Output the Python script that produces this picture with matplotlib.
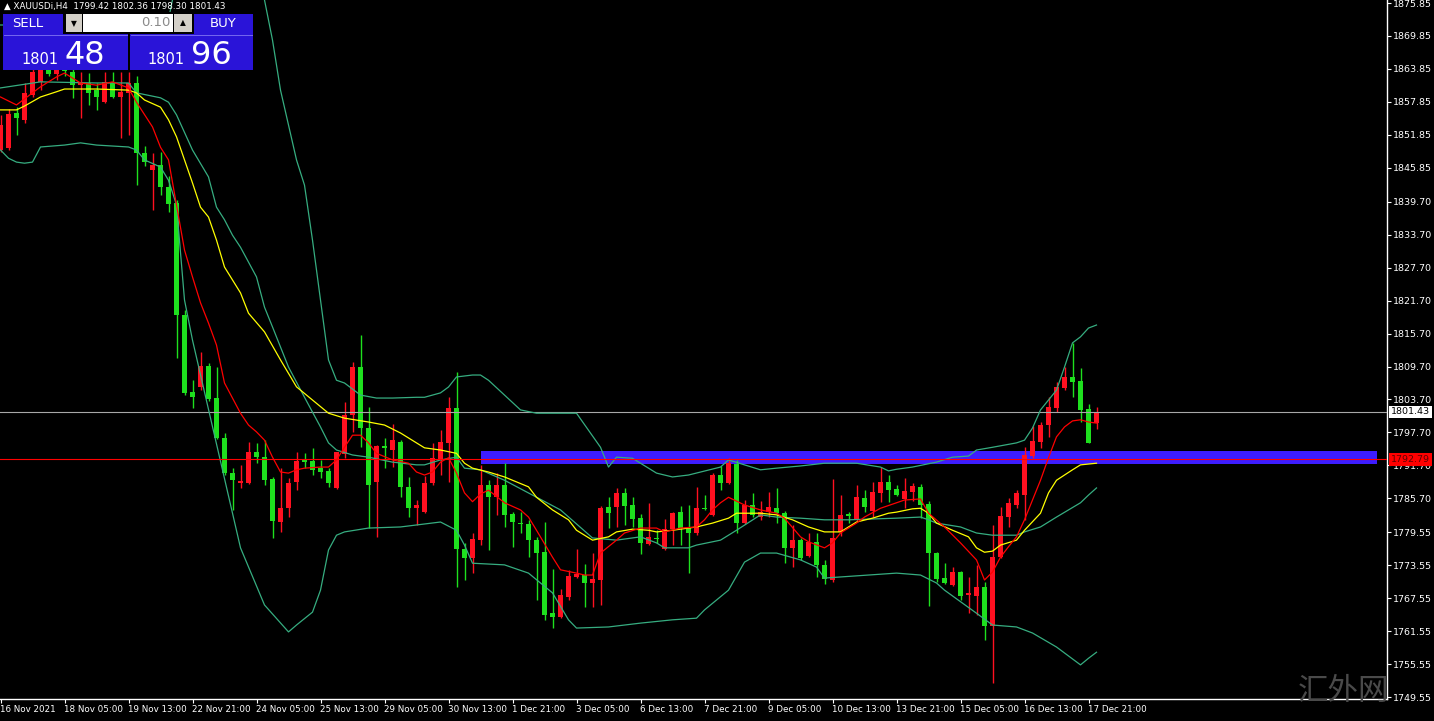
# xauusd_h4.py
# MT4 style H4 chart of XAUUSDi, 16 Nov - 17 Dec 2021, with MAs and Bollinger bands.

import matplotlib
matplotlib.use('Agg')
from matplotlib import pyplot as plt
from matplotlib.patches import Rectangle
from matplotlib.transforms import blended_transform_factory
import numpy as np

# Candles (one per H4 bar, left to right)
opens = [1849.1, 1849.5, 1855.8, 1854.6, 1859.1, 1861.5, 1864.2, 1863.0, 1865.5, 1863.3,
         1860.9, 1861.3, 1860.0, 1857.8, 1861.5, 1858.7, 1859.5, 1861.3, 1848.6, 1845.5,
         1846.4, 1842.4, 1839.5, 1819.1, 1805.1, 1806.0, 1809.8, 1804.0, 1796.7, 1790.3,
         1788.5, 1788.5, 1794.1, 1793.2, 1789.2, 1781.4, 1783.9, 1788.7, 1792.7, 1792.5,
         1791.2, 1790.7, 1787.6, 1793.8, 1800.9, 1809.6, 1798.5, 1788.7, 1795.2, 1794.5,
         1796.0, 1787.8, 1783.9, 1783.2, 1788.5, 1792.9, 1795.8, 1802.1, 1776.5, 1774.8,
         1778.1, 1788.1, 1785.9, 1788.1, 1782.9, 1781.2, 1781.0, 1778.1, 1775.9, 1764.8,
         1764.1, 1767.7, 1771.4, 1771.8, 1770.3, 1770.8, 1784.1, 1784.1, 1786.7, 1784.5,
         1782.1, 1777.4, 1778.5, 1776.5, 1780.1, 1783.2, 1780.5, 1779.4, 1783.9, 1782.7,
         1790.0, 1788.5, 1792.0, 1781.2, 1784.5, 1782.3, 1783.2, 1783.9, 1783.0, 1776.7,
         1778.1, 1775.2, 1777.8, 1773.6, 1770.9, 1779.6, 1782.9, 1781.8, 1785.8, 1783.4,
         1786.7, 1788.7, 1787.4, 1785.6, 1786.9, 1787.8, 1784.7, 1775.8, 1771.2, 1769.9,
         1772.3, 1768.1, 1767.9, 1769.6, 1762.5, 1775.0, 1782.3, 1784.5, 1786.3, 1793.4,
         1796.0, 1799.1, 1802.1, 1805.8, 1807.8, 1807.1, 1802.0, 1799.42]
highs = [1855.5, 1856.5, 1856.9, 1861.3, 1864.6, 1865.0, 1867.0, 1866.8, 1867.5, 1865.0,
         1863.3, 1863.1, 1861.3, 1863.3, 1863.3, 1863.3, 1863.3, 1862.6, 1849.8, 1848.6,
         1848.7, 1844.4, 1840.0, 1820.0, 1807.2, 1812.3, 1810.3, 1809.6, 1797.6, 1791.2,
         1791.8, 1796.0, 1795.8, 1796.3, 1789.6, 1791.2, 1789.4, 1794.1, 1793.9, 1794.9,
         1792.7, 1791.2, 1794.1, 1803.2, 1810.5, 1815.4, 1802.3, 1795.4, 1796.7, 1799.2,
         1796.3, 1789.6, 1785.4, 1789.8, 1795.8, 1798.1, 1804.1, 1808.7, 1777.6, 1779.4,
         1791.8, 1789.0, 1790.3, 1792.1, 1783.2, 1783.2, 1781.8, 1778.7, 1781.4, 1772.8,
         1769.2, 1772.7, 1776.5, 1773.8, 1775.8, 1784.3, 1785.9, 1787.6, 1787.6, 1785.9,
         1782.9, 1784.9, 1779.9, 1781.9, 1783.2, 1784.3, 1784.5, 1787.8, 1786.3, 1790.3,
         1791.6, 1793.0, 1792.7, 1785.4, 1786.7, 1785.2, 1786.9, 1787.6, 1783.4, 1780.9,
         1778.5, 1779.4, 1779.4, 1774.5, 1789.2, 1786.3, 1783.2, 1788.1, 1787.2, 1788.7,
         1791.4, 1790.0, 1788.1, 1789.4, 1788.5, 1788.3, 1785.2, 1775.9, 1773.9, 1773.2,
         1772.5, 1771.4, 1773.6, 1770.5, 1780.9, 1784.1, 1785.8, 1787.2, 1795.0, 1798.9,
         1799.6, 1804.1, 1806.9, 1809.6, 1814.0, 1809.4, 1802.9, 1802.36]
lows = [1848.7, 1849.1, 1851.8, 1854.0, 1858.7, 1860.0, 1862.5, 1861.8, 1862.6, 1858.6,
        1854.9, 1857.3, 1856.4, 1857.7, 1858.6, 1851.3, 1851.8, 1842.7, 1846.2, 1838.2,
        1840.9, 1837.8, 1811.2, 1804.5, 1802.1, 1805.4, 1803.4, 1796.5, 1790.0, 1783.6,
        1787.6, 1788.3, 1792.1, 1788.1, 1778.5, 1779.6, 1782.3, 1787.2, 1791.2, 1790.0,
        1789.4, 1787.8, 1787.4, 1793.0, 1797.8, 1795.0, 1780.3, 1778.7, 1791.2, 1791.4,
        1785.9, 1782.3, 1780.9, 1783.0, 1788.1, 1790.0, 1788.7, 1769.6, 1770.8, 1772.1,
        1777.2, 1776.3, 1782.7, 1780.5, 1776.8, 1779.4, 1775.0, 1767.2, 1763.6, 1762.1,
        1763.9, 1767.2, 1771.2, 1765.9, 1765.9, 1766.3, 1780.3, 1780.5, 1780.9, 1780.5,
        1775.6, 1777.2, 1777.6, 1776.3, 1777.2, 1777.2, 1772.1, 1779.0, 1783.6, 1782.5,
        1787.2, 1788.3, 1779.4, 1781.0, 1782.3, 1781.8, 1782.3, 1781.2, 1773.9, 1773.2,
        1774.5, 1775.0, 1771.4, 1770.1, 1770.5, 1778.8, 1781.2, 1781.6, 1783.2, 1782.3,
        1785.0, 1785.0, 1786.1, 1783.9, 1785.2, 1782.1, 1766.1, 1770.5, 1770.1, 1769.7,
        1767.2, 1764.8, 1764.5, 1759.9, 1752.1, 1774.8, 1780.5, 1783.9, 1781.8, 1793.0,
        1794.9, 1796.9, 1801.4, 1805.4, 1804.1, 1799.6, 1795.8, 1798.30]
closes = [1853.7, 1855.7, 1854.9, 1859.5, 1863.3, 1864.2, 1863.0, 1865.5, 1863.5, 1860.9,
          1861.5, 1859.5, 1858.7, 1861.5, 1858.7, 1859.7, 1861.3, 1848.6, 1846.9, 1846.4,
          1842.4, 1839.3, 1819.1, 1804.9, 1804.1, 1809.8, 1803.8, 1796.7, 1790.3, 1789.0,
          1788.9, 1794.1, 1793.2, 1789.0, 1781.6, 1783.9, 1788.5, 1792.5, 1792.3, 1790.9,
          1790.5, 1788.5, 1794.1, 1800.9, 1809.6, 1798.5, 1788.1, 1795.2, 1794.9, 1796.3,
          1787.8, 1783.9, 1784.5, 1788.5, 1793.0, 1796.0, 1802.1, 1776.5, 1774.8, 1778.3,
          1788.1, 1785.9, 1788.1, 1782.7, 1781.4, 1781.0, 1778.1, 1775.8, 1764.5, 1764.1,
          1768.1, 1771.6, 1771.9, 1770.3, 1771.0, 1783.9, 1783.0, 1786.7, 1784.3, 1781.9,
          1777.6, 1778.7, 1778.3, 1780.1, 1783.0, 1780.3, 1779.4, 1783.9, 1783.8, 1790.0,
          1788.5, 1792.1, 1781.2, 1784.5, 1782.7, 1783.2, 1784.1, 1783.0, 1776.7, 1778.1,
          1774.8, 1777.8, 1773.6, 1771.0, 1778.5, 1782.7, 1782.5, 1785.9, 1784.1, 1786.9,
          1788.7, 1787.2, 1786.3, 1787.0, 1787.9, 1784.5, 1775.8, 1771.0, 1770.3, 1772.3,
          1767.9, 1768.5, 1769.6, 1762.5, 1775.0, 1782.5, 1784.9, 1786.7, 1793.6, 1796.1,
          1799.1, 1802.3, 1806.0, 1807.8, 1806.9, 1801.8, 1795.8, 1801.43]

# Fast MA (red), read at these bars
fast_bars = [0, 2, 5, 7, 8, 10, 12, 14, 16, 17, 19, 20, 21, 22, 23, 24, 25, 26, 27, 28,
             29, 30, 31, 32, 33, 34, 35, 36, 37, 38, 40, 41, 42, 43, 44, 45, 46, 47, 49, 51,
             52, 53, 54, 55, 56, 57, 58, 59, 60, 61, 63, 65, 66, 67, 69, 70, 72, 73, 74, 75,
             77, 78, 80, 82, 83, 85, 87, 88, 89, 90, 91, 93, 95, 97, 98, 100, 101, 103, 104, 105,
             107, 108, 110, 112, 113, 115, 116, 118, 120, 122, 123, 124, 125, 126, 127, 128, 130, 131, 132, 133,
             134, 135, 136, 137]
fast_ma = [1858.75, 1857.3, 1860.6, 1862.4, 1863.1, 1861.3, 1860.9, 1861.5, 1860.4, 1857.8,
           1853.3, 1849.6, 1847.3, 1839.1, 1830.9, 1826.0, 1821.3, 1817.6, 1813.6, 1806.7,
           1803.95, 1801.2, 1799.05, 1797.8, 1796.3, 1793.2, 1790.5, 1790.3, 1790.9, 1791.2,
           1791.4, 1791.4, 1792.7, 1795.0, 1797.2, 1797.2, 1795.8, 1793.9, 1792.7, 1792.1,
           1790.5, 1789.95, 1790.5, 1792.3, 1793.1, 1790.3, 1786.7, 1785.1, 1786.5, 1787.2,
           1784.9, 1783.6, 1782.3, 1779.9, 1775.0, 1772.7, 1772.1, 1771.75, 1771.75, 1775.75,
           1778.1, 1779.4, 1780.3, 1780.3, 1779.6, 1780.3, 1780.5, 1781.8, 1783.6, 1784.9,
           1785.9, 1784.5, 1783.6, 1783.0, 1782.1, 1778.7, 1777.8, 1776.7, 1777.6, 1779.4,
           1781.2, 1782.3, 1783.9, 1784.9, 1785.4, 1785.6, 1783.0, 1780.5, 1777.6, 1774.5,
           1770.85, 1772.3, 1775.0, 1776.9, 1778.7, 1781.8, 1789.0, 1793.1, 1796.9, 1798.7,
           1799.8, 1800.0, 1799.6, 1799.4]

# Slow MA (yellow)
slow_bars = [0, 2, 3, 5, 7, 8, 12, 16, 17, 18, 20, 21, 22, 23, 24, 25, 26, 27, 28, 30,
             31, 33, 35, 37, 39, 41, 43, 46, 48, 50, 52, 53, 55, 57, 58, 59, 61, 63, 66, 67,
             69, 71, 72, 74, 76, 77, 79, 81, 82, 84, 86, 87, 89, 91, 92, 95, 97, 99, 101, 103,
             105, 106, 107, 109, 111, 112, 114, 115, 116, 117, 119, 121, 122, 123, 124, 125, 127, 128, 130, 131,
             132, 134, 135, 137]
slow_ma = [1856.4, 1856.4, 1857.1, 1858.75, 1859.7, 1860.2, 1860.2, 1860.0, 1859.5, 1858.2,
           1856.9, 1854.6, 1851.5, 1847.3, 1843.1, 1838.7, 1836.9, 1832.7, 1827.8, 1823.1,
           1819.4, 1816.0, 1810.9, 1806.0, 1803.6, 1801.2, 1800.3, 1799.6, 1799.05, 1797.6,
           1795.8, 1794.9, 1794.5, 1793.9, 1792.1, 1791.2, 1790.5, 1789.6, 1787.8, 1785.9,
           1783.6, 1781.8, 1779.9, 1778.1, 1778.7, 1779.6, 1780.1, 1779.9, 1779.6, 1779.9,
           1780.3, 1780.5, 1781.2, 1782.1, 1783.0, 1783.0, 1782.7, 1781.8, 1780.5, 1779.6,
           1779.6, 1780.5, 1781.4, 1782.1, 1783.0, 1783.2, 1783.8, 1783.9, 1783.0, 1781.2,
           1779.9, 1778.7, 1776.7, 1775.9, 1776.1, 1777.2, 1778.1, 1779.9, 1783.0, 1786.7,
           1789.0, 1790.9, 1791.8, 1792.1]

# Bollinger bands (green): middle, upper, lower
bb_mid_bars = [0, 5, 12, 16, 17, 20, 21, 22, 24, 26, 27, 28, 29, 30, 32, 33, 34, 36, 38, 40,
               41, 42, 44, 46, 49, 52, 53, 55, 57, 58, 60, 63, 70, 74, 77, 80, 82, 83, 86, 87,
               90, 92, 95, 97, 100, 103, 106, 109, 112, 115, 116, 117, 120, 122, 124, 127, 128, 130, 132, 135,
               136, 137]
bb_mid = [1860.4, 1861.5, 1861.3, 1861.3, 1859.5, 1858.6, 1857.8, 1855.5, 1849.1, 1844.2,
          1838.7, 1836.4, 1833.6, 1831.4, 1826.0, 1820.5, 1816.9, 1809.6, 1804.1, 1798.7,
          1795.8, 1794.5, 1793.6, 1793.2, 1792.3, 1791.8, 1791.8, 1792.7, 1793.2, 1791.2,
          1790.9, 1789.0, 1783.6, 1778.5, 1778.1, 1778.7, 1777.6, 1776.7, 1776.7, 1777.2,
          1778.1, 1779.9, 1782.7, 1782.3, 1782.1, 1781.8, 1781.8, 1781.95, 1782.1, 1782.3,
          1781.8, 1781.2, 1780.5, 1779.4, 1779.0, 1779.0, 1779.6, 1780.5, 1782.3, 1784.9,
          1786.3, 1787.6]
bb_up_bars = [0, 16, 17, 19, 21, 22, 24, 26, 28, 30, 32, 33, 34, 35, 37, 38, 39, 40, 41, 42,
              43, 45, 47, 49, 52, 53, 55, 56, 57, 59, 60, 61, 65, 67, 72, 75, 76, 77, 79, 82,
              84, 86, 90, 91, 95, 97, 100, 103, 107, 110, 111, 112, 114, 117, 119, 121, 122, 124, 127, 128,
              129, 130, 132, 133, 134, 135, 136, 137]
bb_up = [1871.85, 1871.85, 1869.85, 1871.1, 1872.9, 1880.0, 1883.7, 1886.6, 1885.5, 1888.4,
         1883.7, 1876.4, 1869.1, 1860.0, 1847.3, 1842.7, 1832.7, 1821.8, 1810.9, 1807.2,
         1806.7, 1804.5, 1803.96, 1803.96, 1804.1, 1804.1, 1804.9, 1805.97, 1807.8, 1808.15,
         1808.15, 1807.2, 1801.8, 1801.2, 1801.2, 1795.0, 1791.4, 1793.2, 1793.0, 1790.3,
         1789.6, 1789.95, 1791.4, 1792.7, 1790.9, 1791.2, 1791.6, 1792.1, 1792.1, 1791.4,
         1790.7, 1791.0, 1791.4, 1792.3, 1793.2, 1793.4, 1794.5, 1795.0, 1795.8, 1796.3,
         1798.5, 1801.8, 1805.4, 1809.6, 1814.0, 1815.1, 1816.7, 1817.25]
bb_low_bars = [0, 1, 2, 3, 4, 5, 8, 10, 12, 16, 17, 18, 20, 21, 22, 23, 24, 30, 33, 36,
               37, 39, 40, 41, 42, 43, 46, 50, 55, 57, 58, 59, 63, 66, 69, 71, 72, 76, 80, 84,
               87, 88, 91, 93, 95, 97, 100, 102, 103, 112, 115, 117, 118, 122, 124, 127, 129, 132, 135, 136,
               137]
bb_low = [1849.1, 1847.6, 1846.9, 1846.7, 1846.9, 1849.65, 1850.0, 1850.4, 1850.0, 1849.65,
          1849.1, 1847.3, 1846.0, 1843.6, 1839.1, 1821.8, 1814.5, 1776.7, 1766.3, 1761.4,
          1762.65, 1765.0, 1769.0, 1776.3, 1779.0, 1779.6, 1780.3, 1780.5, 1781.4, 1779.9,
          1777.2, 1773.9, 1773.6, 1772.1, 1768.5, 1763.6, 1762.1, 1762.3, 1763.0, 1763.6,
          1763.9, 1765.4, 1769.0, 1774.1, 1775.75, 1775.75, 1774.5, 1773.2, 1771.2, 1772.1,
          1771.75, 1770.3, 1769.0, 1764.8, 1762.65, 1762.3, 1761.2, 1758.65, 1755.4, 1756.6,
          1757.7]

# Axis labels
price_ticks = [1875.85, 1869.85, 1863.85, 1857.85, 1851.85, 1845.85, 1839.70, 1833.70,
               1827.70, 1821.70, 1815.70, 1809.70, 1803.70, 1797.70, 1791.70, 1785.70,
               1779.55, 1773.55, 1767.55, 1761.55, 1755.55, 1749.55]
date_labels = ['16 Nov 2021', '18 Nov 05:00', '19 Nov 13:00', '22 Nov 21:00', '24 Nov 05:00',
               '25 Nov 13:00', '29 Nov 05:00', '30 Nov 13:00', '1 Dec 21:00', '3 Dec 05:00',
               '6 Dec 13:00', '7 Dec 21:00', '9 Dec 05:00', '10 Dec 13:00', '13 Dec 21:00',
               '15 Dec 05:00', '16 Dec 13:00', '17 Dec 21:00']
date_label_bars = [0, 8, 16, 24, 32, 40, 48, 56, 64, 72, 80, 88, 96, 104, 112, 120, 128, 136]

# Levels and the marked zone
current_price = 1801.43
level_price = 1792.79
zone_low, zone_high = 1792.0, 1794.4
zone_start, zone_end = 60, 172

# One click trading panel
bid_price = 1801.48
ask_price = 1801.96
lot_size = 0.10

W, H = 1434, 721
UP = '#ff1020'
DOWN = '#1ee01e'
BAND = '#36ad80'

fig = plt.figure(figsize=(W / 100, H / 100), dpi=100, facecolor='black')
ax = fig.add_axes([0, 22 / H, 1387 / W, 699 / H], facecolor='black')
ax.set_xlim(-0.0625, -0.0625 + 1387 / 8)
ax.set_ylim(1749.19, 1876.4)

o = np.array(opens)
c = np.array(closes)
x = np.arange(len(c))
colors = np.where(c >= o, UP, DOWN)

# zone rectangle behind everything
ax.add_patch(Rectangle((zone_start, zone_low), zone_end - zone_start,
                       zone_high - zone_low, facecolor='#3d1cff', edgecolor='none',
                       zorder=1))

# indicator lines
ax.plot(bb_up_bars, bb_up, color=BAND, lw=0.9, zorder=3)
ax.plot(bb_mid_bars, bb_mid, color=BAND, lw=0.9, zorder=3)
ax.plot(bb_low_bars, bb_low, color=BAND, lw=0.9, zorder=3)
ax.plot(slow_bars, slow_ma, color='#ffff00', lw=0.9, zorder=3)
ax.plot(fast_bars, fast_ma, color='#ff0000', lw=0.9, zorder=3)

# candles
ax.vlines(x, lows, highs, colors=colors, lw=1.0, zorder=2)
body_low = np.minimum(o, c)
body_h = np.maximum(np.abs(c - o), 0.2)
ax.bar(x, body_h, bottom=body_low, width=0.62, color=colors, edgecolor='none',
       zorder=2)

# horizontal lines
ax.axhline(current_price, color='#a8a8a8', lw=0.8, zorder=2.6)
ax.axhline(level_price, color='#ff0000', lw=0.8, zorder=4)

# axes styling
for side in ['left', 'top']:
    ax.spines[side].set_visible(False)
for side in ['right', 'bottom']:
    ax.spines[side].set_color('white')
    ax.spines[side].set_linewidth(1.0)

ax.yaxis.tick_right()
ax.set_yticks(price_ticks)
ax.set_yticklabels(['%.2f' % v for v in price_ticks])
ax.tick_params(axis='y', colors='white', labelsize=6.8, length=3, width=0.8, pad=1.5)
ax.set_xticks(date_label_bars)
ax.set_xticklabels(date_labels, ha='left')
ax.tick_params(axis='x', colors='white', labelsize=6.3, length=3, width=0.8, pad=1.5)

# price tags on the right
tr = blended_transform_factory(ax.transAxes, ax.transData)
ax.text(1.0 + 4 / 1387, current_price, '%.2f' % current_price, transform=tr,
        ha='left', va='center', fontsize=6.8, color='black', clip_on=False, zorder=10,
        bbox=dict(boxstyle='square,pad=0.18', fc='white', ec='none'))
ax.text(1.0 + 4 / 1387, level_price, '%.2f' % level_price, transform=tr,
        ha='left', va='center', fontsize=6.8, color='#600000', clip_on=False, zorder=10,
        bbox=dict(boxstyle='square,pad=0.18', fc='#ff0000', ec='none'))

# overlay in pixel units for the panel, header and watermark
ov = fig.add_axes([0, 0, 1, 1], zorder=5)
ov.set_xlim(0, W)
ov.set_ylim(H, 0)
ov.axis('off')
ov.patch.set_alpha(0)

header = '\u25b2 XAUUSDi,H4  %.2f %.2f %.2f %.2f' % (opens[-1], highs[-1], lows[-1], closes[-1])
ov.text(4, 6, header, ha='left', va='center', fontsize=6.3, color='white')

panel_blue = '#2a14d8'
ov.add_patch(Rectangle((3, 14), 125, 56, facecolor=panel_blue, edgecolor='none'))
ov.add_patch(Rectangle((130, 14), 123, 56, facecolor=panel_blue, edgecolor='none'))
ov.plot([4, 127], [34.5, 34.5], color='#7668f0', lw=0.7)
ov.plot([131, 252], [34.5, 34.5], color='#7668f0', lw=0.7)
ov.add_patch(Rectangle((63, 12), 131, 22, facecolor='black', edgecolor='none'))
ov.add_patch(Rectangle((66, 14), 16, 18, facecolor='#d4d0c8', edgecolor='none'))
ov.add_patch(Rectangle((83, 14), 90, 18, facecolor='white', edgecolor='none'))
ov.add_patch(Rectangle((174, 14), 18, 18, facecolor='#d4d0c8', edgecolor='none'))
ov.text(74, 23.5, '\u25bc', ha='center', va='center', fontsize=5.5, color='black')
ov.text(183, 22.5, '\u25b2', ha='center', va='center', fontsize=5.5, color='black')
ov.text(171, 23, '%.2f' % lot_size, ha='right', va='center', fontsize=9.5, color='#8a8a8a')
ov.text(28, 23.5, 'SELL', ha='center', va='center', fontsize=9.5, color='white')
ov.text(223, 23.5, 'BUY', ha='center', va='center', fontsize=9.5, color='white')

bid_str = '%.2f' % bid_price
ask_str = '%.2f' % ask_price
ov.text(59, 64, bid_str[:4], ha='right', va='baseline', fontsize=10.5, color='white')
ov.text(65, 64, bid_str[5:], ha='left', va='baseline', fontsize=23, color='white')
ov.text(185, 64, ask_str[:4], ha='right', va='baseline', fontsize=10.5, color='white')
ov.text(191, 64, ask_str[5:], ha='left', va='baseline', fontsize=23, color='white')

# watermark, kept just left of the price labels
ov.text(1343, 691, '汇外网', ha='center', va='center', fontsize=22, color='#4a4a4a',
        family=['Noto Sans CJK SC', 'DejaVu Sans'])

plt.savefig('out.png', dpi=100, facecolor='black')
